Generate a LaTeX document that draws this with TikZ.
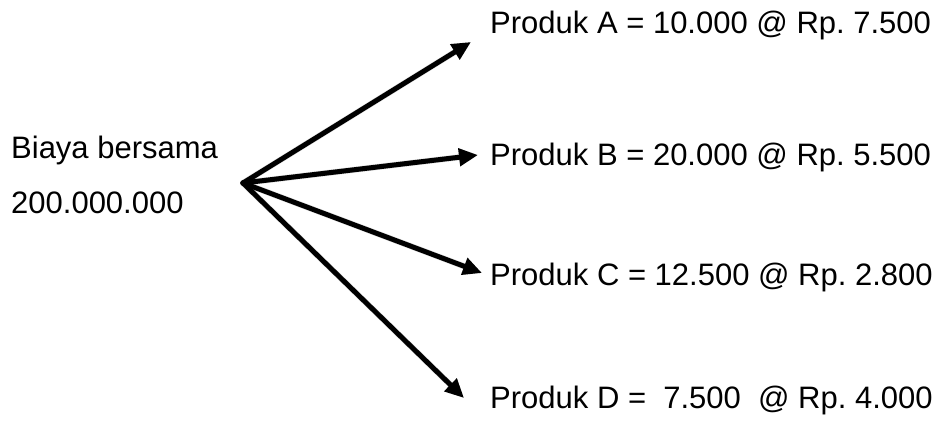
\documentclass[tikz,border=0pt]{standalone}
\usepackage{fontspec}
\setmainfont{Liberation Sans}
\frenchspacing
\usetikzlibrary{arrows.meta}
\tikzset{
  label/.style={anchor=base west, inner sep=0pt, font=\fontsize{31}{35}\selectfont},
  branch/.style={line width=5pt, line cap=round, -{Triangle[length=19pt,width=17pt]}},
  branchshadow/.style={line width=6pt, line cap=round, black!30, opacity=0.45,
    -{Triangle[length=19pt,width=17pt]}, shift={(1.5,1.5)}}
}
\begin{document}
\begin{tikzpicture}[x=1pt,y=-1pt]
  \useasboundingbox (0,0) rectangle (941,423);
  % source
  \node[label] (cost)  at (11,158) {Biaya bersama};
  \node[label] (total) at (11,213) {200.000.000};
  \coordinate (o) at (243,183);
  % arrow tips
  \coordinate (tA) at (471,42);
  \coordinate (tB) at (478,155);
  \coordinate (tC) at (482,273);
  \coordinate (tD) at (464,398);
  % products
  \node[label] (pA) at (490,33)  {Produk A = 10.000 @ Rp. 7.500};
  \node[label] (pB) at (490,165) {Produk B = 20.000 @ Rp. 5.500};
  \node[label] (pC) at (490,285) {Produk C = 12.500 @ Rp. 2.800};
  \node[label] (pD) at (490,408) {Produk D = \ 7.500 \ @ Rp. 4.000};
  % soft shadows under the arrows
  \foreach \t in {tA,tB,tC,tD}
    \draw[branchshadow] (o) -- (\t);
  % arrows
  \foreach \t in {tA,tB,tC,tD}
    \draw[branch] (o) -- (\t);
\end{tikzpicture}
\end{document}
